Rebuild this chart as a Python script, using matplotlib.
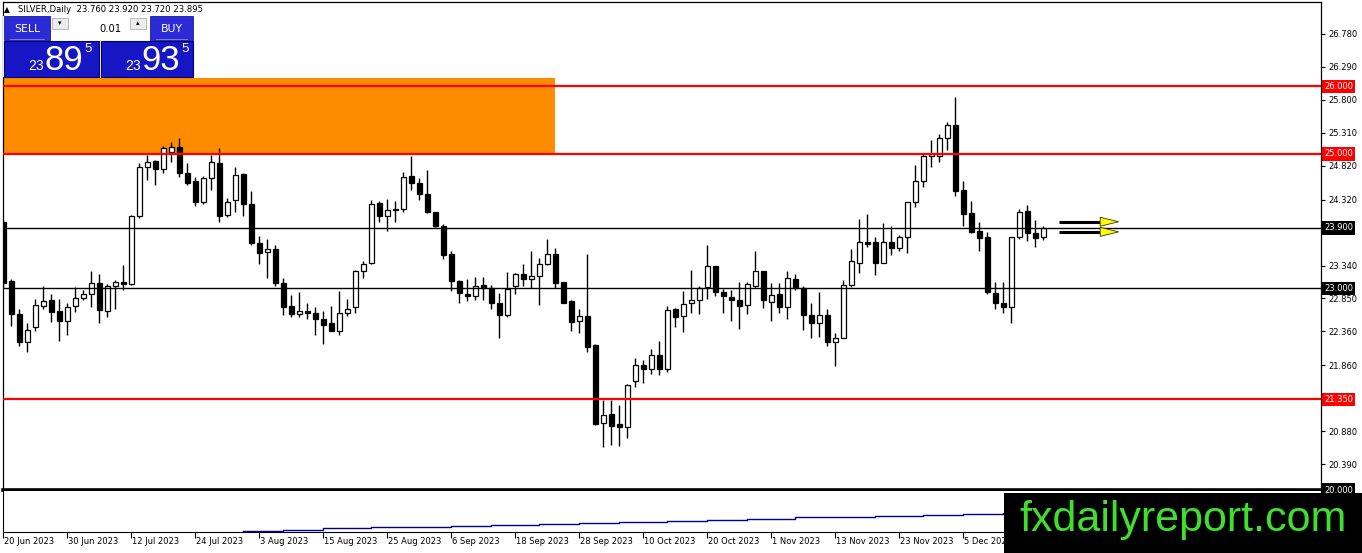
import numpy as np
import pandas as pd
import matplotlib
matplotlib.use("Agg")
import matplotlib.pyplot as plt
from matplotlib.patches import Rectangle, Polygon

# daily SILVER candles, 20 Jun 2023 .. 19 Dec 2023
opens = [23.99, 23.11, 22.62, 22.21, 22.42, 22.74, 22.83, 22.66, 22.51, 22.74,
         22.85, 22.91, 23.08, 22.67, 23.03, 23.09, 23.07, 24.07, 24.80, 24.90,
         24.78, 25.02, 25.10, 24.71, 24.59, 24.29, 24.64, 24.87, 24.09, 24.31,
         24.70, 24.26, 23.67, 23.54, 23.59, 23.08, 22.74, 22.62, 22.66, 22.64,
         22.55, 22.48, 22.37, 22.64, 22.72, 23.26, 23.37, 24.27, 24.08, 24.17,
         24.18, 24.67, 24.56, 24.40, 24.13, 23.93, 23.51, 23.11, 22.92, 22.89,
         23.05, 23.01, 22.79, 22.60, 23.03, 23.21, 23.14, 23.19, 23.36, 23.51,
         23.09, 22.81, 22.51, 22.59, 22.16, 21.00, 21.13, 20.99, 20.94, 21.63,
         21.86, 21.80, 22.01, 21.80, 22.70, 22.59, 22.79, 22.83, 23.02, 23.33,
         22.95, 22.87, 22.83, 22.76, 23.03, 23.26, 22.80, 22.91, 22.72, 23.14,
         23.00, 22.60, 22.49, 22.60, 22.21, 22.26, 23.05, 23.38, 23.69, 23.69,
         23.38, 23.69, 23.60, 23.76, 24.28, 24.60, 24.97, 24.96, 25.23, 25.43,
         24.46, 24.12, 23.85, 23.77, 22.93, 22.78, 22.73, 23.76, 24.15, 23.82,
         23.76]
highs = [24.02, 23.14, 22.69, 22.49, 22.84, 23.04, 22.92, 22.84, 22.79, 23.02,
         22.98, 23.26, 23.21, 23.07, 23.12, 23.35, 24.09, 24.86, 24.98, 24.91,
         25.12, 25.18, 25.23, 24.86, 24.66, 24.67, 24.98, 25.08, 24.35, 24.81,
         24.72, 24.44, 23.78, 23.73, 23.65, 23.15, 22.90, 22.94, 22.79, 22.72,
         22.66, 22.74, 22.96, 22.84, 23.27, 23.41, 24.31, 24.30, 24.33, 24.30,
         24.73, 24.97, 24.64, 24.76, 24.14, 23.96, 23.56, 23.13, 23.14, 23.17,
         23.17, 23.05, 22.93, 23.24, 23.23, 23.36, 23.56, 23.45, 23.73, 23.60,
         23.10, 22.83, 22.69, 23.51, 22.17, 21.34, 21.34, 21.27, 21.58, 21.96,
         21.93, 22.10, 22.22, 22.74, 22.71, 22.96, 23.27, 23.04, 23.65, 23.34,
         22.99, 22.98, 23.09, 23.09, 23.56, 23.26, 23.08, 23.08, 23.26, 23.21,
         23.03, 22.79, 22.95, 22.70, 22.33, 23.13, 23.58, 24.03, 24.11, 23.76,
         23.97, 23.92, 23.79, 24.29, 24.83, 25.01, 25.20, 25.30, 25.47, 25.85,
         24.60, 24.30, 23.98, 23.84, 23.09, 23.09, 23.77, 24.18, 24.24, 24.01,
         23.92]
lows = [23.02, 22.44, 22.14, 22.06, 22.37, 22.70, 22.50, 22.22, 22.31, 22.65,
        22.82, 22.73, 22.48, 22.57, 22.69, 22.97, 23.05, 24.04, 24.61, 24.54,
        24.71, 24.88, 24.66, 24.54, 24.22, 24.25, 24.46, 23.99, 24.06, 24.14,
        24.07, 23.65, 23.36, 23.16, 23.03, 22.61, 22.58, 22.58, 22.54, 22.31,
        22.18, 22.36, 22.30, 22.59, 22.63, 23.16, 23.36, 23.98, 23.86, 23.99,
        24.13, 24.46, 24.31, 24.12, 23.91, 23.43, 22.96, 22.79, 22.81, 22.83,
        22.83, 22.70, 22.26, 22.58, 22.91, 23.04, 23.00, 22.75, 23.35, 23.00,
        22.78, 22.36, 22.34, 22.06, 20.97, 20.64, 20.67, 20.66, 20.77, 21.53,
        21.60, 21.73, 21.72, 21.76, 22.43, 22.35, 22.64, 22.62, 22.84, 22.89,
        22.63, 22.52, 22.40, 22.62, 23.00, 22.71, 22.51, 22.63, 22.55, 22.98,
        22.38, 22.27, 22.28, 22.14, 21.85, 22.26, 23.02, 23.23, 23.62, 23.20,
        23.37, 23.50, 23.55, 23.53, 24.21, 24.50, 24.81, 24.88, 25.05, 24.37,
        23.92, 23.83, 23.55, 22.92, 22.69, 22.64, 22.48, 23.73, 23.71, 23.62,
        23.72]
closes = [23.08, 22.62, 22.21, 22.38, 22.75, 22.81, 22.65, 22.52, 22.73, 22.86,
          22.91, 23.08, 22.68, 23.04, 23.09, 23.07, 24.07, 24.80, 24.88, 24.78,
          25.08, 25.10, 24.71, 24.56, 24.29, 24.64, 24.88, 24.07, 24.29, 24.69,
          24.25, 23.67, 23.52, 23.59, 23.08, 22.73, 22.62, 22.66, 22.64, 22.55,
          22.46, 22.37, 22.64, 22.70, 23.26, 23.36, 24.26, 24.08, 24.17, 24.18,
          24.65, 24.56, 24.40, 24.13, 23.93, 23.50, 23.11, 22.93, 22.88, 23.03,
          23.01, 22.79, 22.60, 22.99, 23.22, 23.14, 23.18, 23.36, 23.51, 23.08,
          22.79, 22.50, 22.59, 22.13, 20.99, 21.12, 20.96, 20.94, 21.57, 21.86,
          21.80, 22.01, 21.80, 22.68, 22.57, 22.77, 22.82, 23.00, 23.33, 22.94,
          22.88, 22.82, 22.74, 23.07, 23.26, 22.82, 22.90, 22.73, 23.16, 23.00,
          22.60, 22.49, 22.60, 22.21, 22.26, 23.05, 23.40, 23.69, 23.66, 23.38,
          23.69, 23.60, 23.77, 24.29, 24.59, 24.97, 24.99, 25.23, 25.43, 24.45,
          24.11, 23.84, 23.75, 22.95, 22.78, 22.73, 23.76, 24.13, 23.82, 23.75,
          23.895]

first_day = "2023-06-20"
red_levels = [26.0, 25.0, 21.35]
black_levels = [23.9, 23.0]
floor_level = 20.0
zone_low, zone_high, zone_end_bar = 25.0, 26.13, 68.9
price_ticks = [26.78, 26.29, 25.80, 25.31, 24.82, 24.32, 23.83, 23.34,
               22.85, 22.36, 21.86, 21.37, 20.88, 20.39]
arrow_prices = [23.99, 23.84]
arrow_bars = [132, 137.1, 139.4]

# slow indicator in the lower window (weekly steps)
ind_bars = [30, 35, 40, 46, 51, 56, 61, 67, 72, 77, 83, 88, 93, 99, 104,
            109, 115, 120, 125, 130]
ind_vals = [1.0, 2.3, 3.6, 4.6, 5.5, 6.5, 7.5, 8.5, 9.4, 10.4, 11.4, 12.4,
            13.4, 14.6, 15.5, 16.4, 17.2, 18.0, 18.8, 19.6]

bid, ask = 23.895, 23.935

o, h, l, c = (np.array(a) for a in (opens, highs, lows, closes))
idx = np.arange(len(c))
dates = pd.bdate_range(first_day, periods=len(c))

W, H = 1362, 553
fig = plt.figure(figsize=(W / 100, H / 100), dpi=100)
fig.patch.set_facecolor("white")


def fx(px):
    return px / W


def fy(py):
    return 1 - py / H


xlim = (-0.04, 164.7)
ax = fig.add_axes([fx(3), fy(490.3), fx(1321) - fx(3), fy(2) - fy(490.3)])
ax.set_xlim(*xlim)
ax.set_ylim(20.0, 27.255)

# zone + levels
ax.add_patch(Rectangle((xlim[0], zone_low), zone_end_bar - xlim[0], zone_high - zone_low,
                       facecolor="#ff8c00", edgecolor="none", zorder=1))
for lv in red_levels:
    ax.axhline(lv, color="#ff0000", lw=1.6, zorder=5)
for lv in black_levels:
    ax.axhline(lv, color="black", lw=1.0, zorder=5)
ax.axhline(floor_level, color="black", lw=2.6, zorder=5, clip_on=False)

# candles
up = c >= o
body_lo = np.minimum(o, c)
body_h = np.maximum(np.abs(c - o), 0.012)
ax.vlines(idx, l, h, color="black", lw=1.0, zorder=2)
ax.bar(idx[up], body_h[up], bottom=body_lo[up], width=0.62, color="white",
       edgecolor="black", lw=0.9, zorder=3)
ax.bar(idx[~up], body_h[~up], bottom=body_lo[~up], width=0.62, color="black",
       edgecolor="black", lw=0.9, zorder=3)

# arrows
hh = 0.067
for p in arrow_prices:
    ax.plot(arrow_bars[:2], [p, p], color="black", lw=2.2, zorder=6,
            solid_capstyle="butt")
    ax.add_patch(Polygon([(arrow_bars[1], p + hh), (arrow_bars[2], p), (arrow_bars[1], p - hh)],
                         closed=True, facecolor="#ffff00", edgecolor="#333300", lw=0.6, zorder=7))

# price axis (labels hidden under the level boxes are left out)
marked = red_levels + black_levels
ax.set_xticks([])
ax.yaxis.tick_right()
ax.set_yticks(price_ticks)
ax.set_yticklabels(["" if min(abs(v - m) for m in marked) < 0.1 else f"{v:.3f}"
                    for v in price_ticks])
ax.tick_params(axis="y", length=3, width=0.8, labelsize=6, pad=2, colors="black")
ax.spines["bottom"].set_visible(False)
for s in ("top", "left", "right"):
    ax.spines[s].set_linewidth(0.9)

for lv, bg in [(lv, "#ff0000") for lv in red_levels] + \
              [(lv, "black") for lv in black_levels + [floor_level]]:
    ax.annotate(f"{lv:.3f}", xy=(1, lv), xycoords=("axes fraction", "data"),
                xytext=(2.2, 0), textcoords="offset points", ha="left", va="center",
                fontsize=6, color="white", zorder=20, annotation_clip=False,
                bbox=dict(boxstyle="square,pad=0.28", fc=bg, ec="none"))

# lower window
ax_sub = fig.add_axes([fx(3), fy(532), fx(1321) - fx(3), fy(491) - fy(532)])
ax_sub.set_xlim(*xlim)
ax_sub.set_ylim(0, 41)
ax_sub.step(ind_bars, ind_vals, where="post", color="#000090", lw=1.0)
ax_sub.set_yticks([])
lab_idx = idx[::8]
ax_sub.set_xticks(lab_idx)
ax_sub.set_xticklabels([])
ax_sub.tick_params(axis="x", length=4, width=0.8)
ax_sub.spines["top"].set_visible(False)
for i in lab_idx:
    d = dates[i]
    ax_sub.annotate(f"{d.day} {d.strftime('%b %Y')}", xy=(i, 0),
                    xycoords=("data", "axes fraction"), xytext=(0.5, -3.8),
                    textcoords="offset points", ha="left", va="top", fontsize=6,
                    annotation_clip=False)

# overlay: header, trade panel, watermark (pixel coordinates)
ov = fig.add_axes([0, 0, 1, 1], zorder=10)
ov.set_xlim(0, W)
ov.set_ylim(H, 0)
ov.axis("off")

ov.text(4, 9.5, "\u25b2", fontsize=5.5, va="center", ha="left")
ov.text(18, 9.5, f"SILVER,Daily  {o[-1]:.3f} {h[-1]:.3f} {l[-1]:.3f} {c[-1]:.3f}",
        fontsize=6.1, va="center", ha="left")

ov.add_patch(Rectangle((3, 16), 194, 61, fc="white", ec="none"))
for x0, w, txt in [(4, 46, "SELL"), (150, 43, "BUY")]:
    ov.add_patch(Rectangle((x0, 16), w, 24, fc="#2b2bd6", ec="#1a1a9a", lw=0.6))
    ov.text(x0 + w / 2, 29, txt, color="white", fontsize=7.8, ha="center", va="center")
    ov.plot([x0 + 6, x0 + w - 6], [38.5, 38.5], color="#8888ff", lw=0.6)
for x0, txt in [(52, "\u25be"), (130, "\u25b4")]:
    ov.add_patch(Rectangle((x0, 18), 16, 11, fc="#ececec", ec="#b0b0b0", lw=0.6))
    ov.text(x0 + 8, 23.5, txt, fontsize=5, ha="center", va="center")
ov.text(122, 29, "0.01", fontsize=7.2, ha="right", va="center")

for x0, w, price in [(4, 95, bid), (101, 92, ask)]:
    s = f"{price:.3f}"
    ov.add_patch(Rectangle((x0, 41), w, 36, fc="#1616c4", ec="#000070", lw=0.8))
    ov.text(x0 + 40, 66, s[:2], color="white", fontsize=10, ha="right", va="center",
            family="Liberation Sans")
    ov.text(x0 + 60, 60, s[3:5], color="white", fontsize=25, ha="center", va="center",
            family="Liberation Sans")
    ov.text(x0 + 80, 48.5, s[5], color="white", fontsize=9.5, ha="left", va="center",
            family="Liberation Sans")

ov.add_patch(Rectangle((1004, 493), W - 1004, H - 493, fc="black", ec="none"))
ov.text(1183, 520, "fxdailyreport.com", color="#3fe02c", fontsize=31,
        ha="center", va="center", family="Liberation Sans")

fig.savefig("out.png", dpi=100, facecolor="white")
